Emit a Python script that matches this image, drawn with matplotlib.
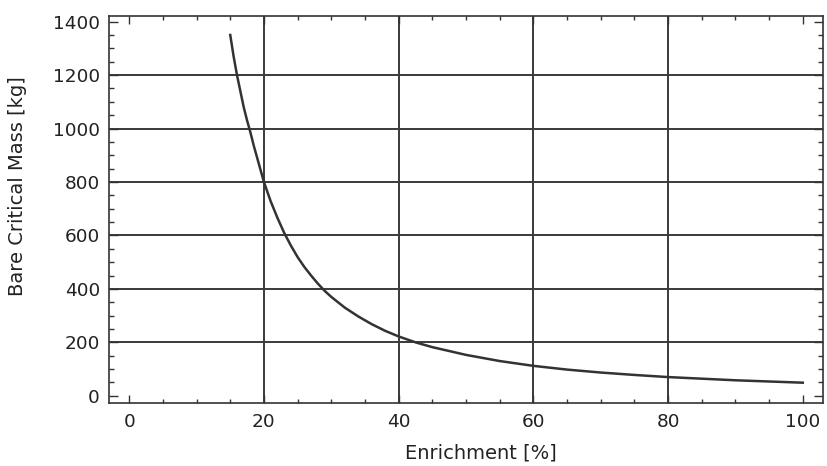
import matplotlib
matplotlib.use("Agg")
import matplotlib.pyplot as plt
import matplotlib.ticker as tik

# enrichment [%] vs bare critical mass [kg]
enrichment = [15, 15.5, 16, 16.5, 17, 17.5, 18, 18.5, 19, 19.5, 20, 21, 22, 23,
              24, 25, 26, 27, 28, 29, 30, 32, 34, 36, 38, 40, 42.5, 45, 50,
              55, 60, 65, 70, 75, 80, 90, 100]
mass = [1350, 1270, 1200, 1140, 1080, 1030, 985, 935, 890, 845, 800, 728, 666, 610,
        562, 519, 482, 450, 420, 393, 370, 330, 297, 268, 243, 222, 200, 182, 153,
        130, 112, 98, 87, 78, 70, 58, 49]

plt.rcParams['font.family'] = ['DejaVu Sans']

fig = plt.figure(figsize=(8.27, 4.66), dpi=100)
ax = fig.add_axes([109/827, 1-403/466, 714/827, 387/466])

ax.plot(enrichment, mass, color='#333333', linewidth=1.8, zorder=3)

ax.set_xlim(-3, 103)
ax.set_ylim(-27, 1421)

ax.xaxis.set_major_locator(tik.MultipleLocator(20))
ax.xaxis.set_minor_locator(tik.MultipleLocator(5))
ax.yaxis.set_major_locator(tik.MultipleLocator(200))
ax.yaxis.set_minor_locator(tik.MultipleLocator(50))

# grid only at inner majors
for gx in [20, 40, 60, 80]:
    ax.axvline(gx, color='#3a3a3a', linewidth=1.4, zorder=1)
for gy in [200, 400, 600, 800, 1000, 1200]:
    ax.axhline(gy, color='#3a3a3a', linewidth=1.4, zorder=1)

ax.tick_params(which='both', direction='in', top=True, right=True,
               color='#333333', width=1.0, labelsize=13.3, labelcolor='#222222')
ax.tick_params(axis='x', which='major', length=5.5, pad=7)
ax.tick_params(axis='x', which='minor', length=3)
ax.tick_params(axis='y', which='major', length=6.5, pad=6.5)
ax.tick_params(axis='y', which='minor', length=3.8)

for s in ax.spines.values():
    s.set_color('#333333')
    s.set_linewidth(1.2)

ax.set_xlabel('Enrichment [%]', fontsize=14, color='#222222')
ax.set_ylabel('Bare Critical Mass [kg]', fontsize=14, color='#222222')
ax.xaxis.set_label_coords(0.521, -0.105)
ax.yaxis.set_label_coords(-0.115, 0.561)

fig.savefig("out.png", dpi=100)
